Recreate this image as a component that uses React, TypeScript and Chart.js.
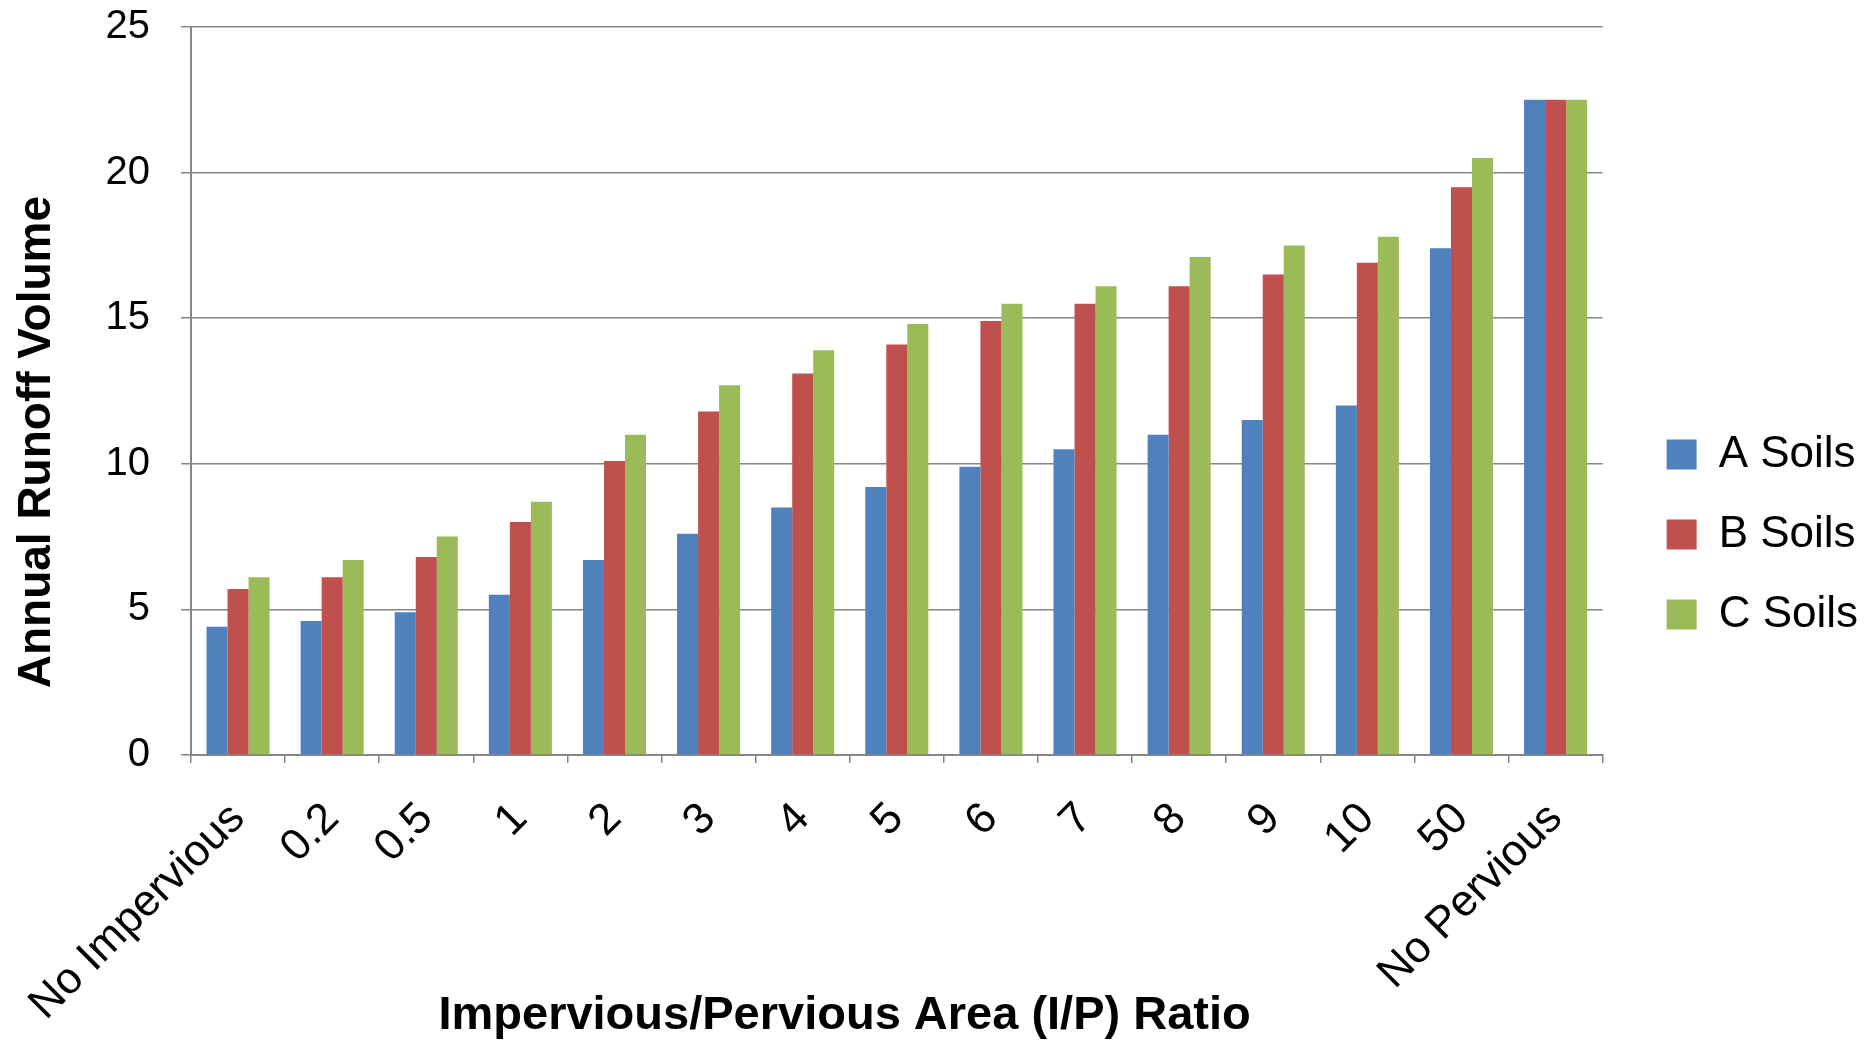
import React, { useEffect, useRef } from 'react';
import { Chart, registerables } from 'chart.js';
Chart.register(...registerables);

const categories = ['No Impervious', '0.2', '0.5', '1', '2', '3', '4', '5', '6', '7', '8', '9', '10', '50', 'No Pervious'];
const aSoils = [4.4, 4.6, 4.9, 5.5, 6.7, 7.6, 8.5, 9.2, 9.9, 10.5, 11.0, 11.5, 12.0, 17.4, 22.5];
const bSoils = [5.7, 6.1, 6.8, 8.0, 10.1, 11.8, 13.1, 14.1, 14.9, 15.5, 16.1, 16.5, 16.9, 19.5, 22.5];
const cSoils = [6.1, 6.7, 7.5, 8.7, 11.0, 12.7, 13.9, 14.8, 15.5, 16.1, 17.1, 17.5, 17.8, 20.5, 22.5];
const seriesNames = ['A Soils', 'B Soils', 'C Soils'];
const seriesColors = ['#4F81BD', '#C0504D', '#9BBB59'];
const yMax = 25;
const yStep = 5;
const xTitle = 'Impervious/Pervious Area (I/P) Ratio';
const yTitle = 'Annual Runoff Volume';

const REG = "'Liberation Sans', Arial, sans-serif";
const GRID = '#868686';

export default function App() {
  const ref = useRef<HTMLCanvasElement | null>(null);
  useEffect(() => {
    document.body.style.margin = '0';
    const canvas = ref.current;
    if (!canvas) return;
    const values = [aSoils, bSoils, cSoils];
    const chart = new Chart(canvas, {
      type: 'bar',
      data: {
        labels: categories,
        datasets: seriesNames.map((name, i) => ({
          label: name,
          data: values[i],
          backgroundColor: seriesColors[i],
          borderWidth: 0,
          barPercentage: 1,
          categoryPercentage: 0.67,
        })),
      },
      options: {
        animation: false,
        responsive: false,
        maintainAspectRatio: false,
        color: '#000',
        layout: { padding: { left: 0, right: 0, top: 27, bottom: 0 } },
        plugins: {
          tooltip: { enabled: false },
          legend: {
            position: 'right',
            align: 'center',
            labels: {
              boxWidth: 30,
              boxHeight: 30,
              padding: 36,
              color: '#000',
              font: { family: REG, size: 44 },
            },
          },
        },
        scales: {
          x: {
            offset: true,
            grid: {
              offset: true,
              drawOnChartArea: false,
              drawTicks: true,
              tickLength: 8,
              color: GRID,
              lineWidth: 1.5,
            },
            border: { display: true, color: GRID, width: 2 },
            ticks: {
              minRotation: 45,
              maxRotation: 45,
              autoSkip: false,
              padding: 30,
              color: '#000',
              font: { family: REG, size: 44 },
            },
            title: {
              display: true,
              text: xTitle + '        ',
              color: '#000',
              padding: { top: 0, bottom: 0 },
              font: { family: REG, size: 47, weight: 'bold', lineHeight: 1.1 },
            },
            afterFit: (s: any) => { s.height = 287; s.paddingLeft = 0; s.paddingRight = 0; },
          },
          y: {
            min: 0,
            max: yMax,
            ticks: {
              stepSize: yStep,
              padding: 31,
              color: '#000',
              font: { family: REG, size: 40 },
            },
            grid: { color: GRID, lineWidth: 1.5, tickLength: 10, drawTicks: true },
            border: { display: true, color: GRID, width: 2 },
            title: {
              display: true,
              text: yTitle + '        ',
              color: '#000',
              padding: { top: 12, bottom: 0 },
              font: { family: REG, size: 46, weight: 'bold', lineHeight: 1.1 },
            },
            afterFit: (s: any) => { s.width = 191; s.paddingTop = 0; s.paddingBottom = 0; },
          },
          yRight: {
            position: 'right',
            min: 0,
            max: 1,
            grid: { display: false },
            border: { display: false },
            ticks: { display: false },
            afterFit: (s: any) => { s.width = 28; s.paddingTop = 0; s.paddingBottom = 0; },
          },
        },
      } as any,
    });
    return () => chart.destroy();
  }, []);
  return (
    <div style={{ position: 'fixed', left: 0, top: 0, width: 1868, height: 1042, background: '#fff' }}>
      <canvas ref={ref} width={1868} height={1042} style={{ width: 1868, height: 1042 }} />
    </div>
  );
}
